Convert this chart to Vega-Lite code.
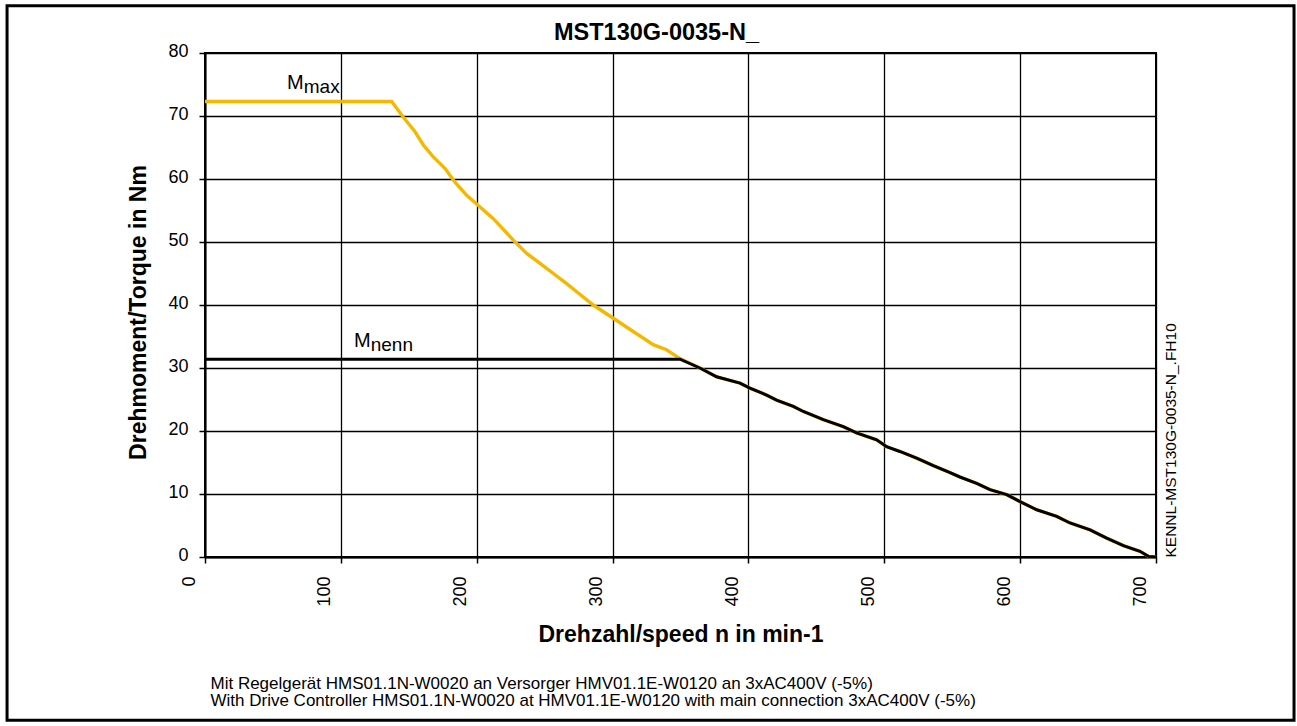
{
  "$schema": "https://vega.github.io/schema/vega-lite/v6.json",
  "width": 951,
  "height": 504,
  "autosize": {"type": "none"},
  "padding": {"left": 205, "top": 53, "right": 141, "bottom": 169},
  "background": "white",
  "config": {
    "font": "Liberation Sans",
    "view": {"stroke": "black", "strokeWidth": 2},
    "axis": {
      "gridColor": "black",
      "gridWidth": 1.3,
      "gridOpacity": 1,
      "domainColor": "black",
      "domainWidth": 2,
      "tickColor": "black",
      "tickWidth": 1.5,
      "tickSize": 6,
      "labelColor": "black",
      "labelFont": "Liberation Sans",
      "labelFontSize": 18,
      "titleFont": "Liberation Sans",
      "titleColor": "black",
      "titleFontSize": 23,
      "titleFontWeight": "bold"
    }
  },
  "datasets": {
    "curves": [
      {"series": "Mmax", "n": 0, "T": 72.3},
      {"series": "Mmax", "n": 137.4, "T": 72.3},
      {"series": "Mmax", "n": 146, "T": 69.8},
      {"series": "Mmax", "n": 154.6, "T": 67.5},
      {"series": "Mmax", "n": 160.7, "T": 65.4},
      {"series": "Mmax", "n": 168, "T": 63.5},
      {"series": "Mmax", "n": 176.6, "T": 61.7},
      {"series": "Mmax", "n": 184, "T": 59.5},
      {"series": "Mmax", "n": 192.6, "T": 57.4},
      {"series": "Mmax", "n": 201.2, "T": 55.8},
      {"series": "Mmax", "n": 212.2, "T": 53.7},
      {"series": "Mmax", "n": 226.9, "T": 50.3},
      {"series": "Mmax", "n": 236.8, "T": 48.2},
      {"series": "Mmax", "n": 246.6, "T": 46.6},
      {"series": "Mmax", "n": 256.4, "T": 45.0},
      {"series": "Mmax", "n": 266.2, "T": 43.4},
      {"series": "Mmax", "n": 273.6, "T": 42.1},
      {"series": "Mmax", "n": 285.8, "T": 40.0},
      {"series": "Mmax", "n": 300.5, "T": 37.9},
      {"series": "Mmax", "n": 315.2, "T": 35.8},
      {"series": "Mmax", "n": 329.9, "T": 33.7},
      {"series": "Mmax", "n": 339.7, "T": 32.9},
      {"series": "Mmax", "n": 349.6, "T": 31.5},
      {"series": "Mmax", "n": 364.3, "T": 30.0},
      {"series": "Mmax", "n": 376.6, "T": 28.6},
      {"series": "Mmax", "n": 393.8, "T": 27.6},
      {"series": "Mmax", "n": 401.1, "T": 26.8},
      {"series": "Mmax", "n": 413.4, "T": 25.7},
      {"series": "Mmax", "n": 420.7, "T": 24.9},
      {"series": "Mmax", "n": 433, "T": 23.9},
      {"series": "Mmax", "n": 440.4, "T": 23.1},
      {"series": "Mmax", "n": 455.1, "T": 21.8},
      {"series": "Mmax", "n": 469.8, "T": 20.7},
      {"series": "Mmax", "n": 479.6, "T": 19.7},
      {"series": "Mmax", "n": 494.4, "T": 18.6},
      {"series": "Mmax", "n": 501.7, "T": 17.5},
      {"series": "Mmax", "n": 511.5, "T": 16.75},
      {"series": "Mmax", "n": 523.8, "T": 15.7},
      {"series": "Mmax", "n": 536.1, "T": 14.5},
      {"series": "Mmax", "n": 548.4, "T": 13.4},
      {"series": "Mmax", "n": 555.7, "T": 12.7},
      {"series": "Mmax", "n": 568, "T": 11.7},
      {"series": "Mmax", "n": 577.8, "T": 10.7},
      {"series": "Mmax", "n": 590.1, "T": 9.9},
      {"series": "Mmax", "n": 599.9, "T": 8.8},
      {"series": "Mmax", "n": 612.2, "T": 7.5},
      {"series": "Mmax", "n": 626.9, "T": 6.45},
      {"series": "Mmax", "n": 636.7, "T": 5.4},
      {"series": "Mmax", "n": 651.5, "T": 4.3},
      {"series": "Mmax", "n": 663.7, "T": 3.0},
      {"series": "Mmax", "n": 676, "T": 1.8},
      {"series": "Mmax", "n": 688.2, "T": 0.9},
      {"series": "Mmax", "n": 694.4, "T": 0.1},
      {"series": "Mmax", "n": 700, "T": 0},
      {"series": "Mnenn", "n": 0, "T": 31.4},
      {"series": "Mnenn", "n": 349.6, "T": 31.4},
      {"series": "Mnenn", "n": 364.3, "T": 30.0},
      {"series": "Mnenn", "n": 376.6, "T": 28.6},
      {"series": "Mnenn", "n": 393.8, "T": 27.6},
      {"series": "Mnenn", "n": 401.1, "T": 26.8},
      {"series": "Mnenn", "n": 413.4, "T": 25.7},
      {"series": "Mnenn", "n": 420.7, "T": 24.9},
      {"series": "Mnenn", "n": 433, "T": 23.9},
      {"series": "Mnenn", "n": 440.4, "T": 23.1},
      {"series": "Mnenn", "n": 455.1, "T": 21.8},
      {"series": "Mnenn", "n": 469.8, "T": 20.7},
      {"series": "Mnenn", "n": 479.6, "T": 19.7},
      {"series": "Mnenn", "n": 494.4, "T": 18.6},
      {"series": "Mnenn", "n": 501.7, "T": 17.5},
      {"series": "Mnenn", "n": 511.5, "T": 16.75},
      {"series": "Mnenn", "n": 523.8, "T": 15.7},
      {"series": "Mnenn", "n": 536.1, "T": 14.5},
      {"series": "Mnenn", "n": 548.4, "T": 13.4},
      {"series": "Mnenn", "n": 555.7, "T": 12.7},
      {"series": "Mnenn", "n": 568, "T": 11.7},
      {"series": "Mnenn", "n": 577.8, "T": 10.7},
      {"series": "Mnenn", "n": 590.1, "T": 9.9},
      {"series": "Mnenn", "n": 599.9, "T": 8.8},
      {"series": "Mnenn", "n": 612.2, "T": 7.5},
      {"series": "Mnenn", "n": 626.9, "T": 6.45},
      {"series": "Mnenn", "n": 636.7, "T": 5.4},
      {"series": "Mnenn", "n": 651.5, "T": 4.3},
      {"series": "Mnenn", "n": 663.7, "T": 3.0},
      {"series": "Mnenn", "n": 676, "T": 1.8},
      {"series": "Mnenn", "n": 688.2, "T": 0.9},
      {"series": "Mnenn", "n": 694.4, "T": 0.1},
      {"series": "Mnenn", "n": 700, "T": 0}
    ],
    "labels": [
      {"n": 60.4, "T": 74.34, "main": "M", "sub": "max"},
      {"n": 109.7, "T": 33.39, "main": "M", "sub": "nenn"}
    ]
  },
  "layer": [
    {
      "data": {"values": [{}]},
      "mark": {"type": "rect", "fill": "transparent", "stroke": "black", "strokeWidth": 3, "clip": false},
      "encoding": {
        "x": {"datum": -145.7, "type": "quantitative", "scale": {"domain": [0, 700], "nice": false, "zero": false}, "axis": null},
        "x2": {"datum": 801.6},
        "y": {"datum": 87.5, "type": "quantitative", "scale": {"domain": [0, 80], "nice": false, "zero": false}, "axis": null},
        "y2": {"datum": -25.9}
      }
    },
    {
      "data": {"name": "curves"},
      "transform": [{"filter": "datum.series === 'Mmax'"}],
      "mark": {"type": "line", "color": "#F4B800", "strokeWidth": 3.4},
      "encoding": {
        "x": {
          "field": "n", "type": "quantitative",
          "scale": {"domain": [0, 700], "nice": false, "zero": false},
          "axis": {
            "title": "Drehzahl/speed n in min-1",
            "values": [0, 100, 200, 300, 400, 500, 600, 700],
            "labelAngle": -90,
            "labelAlign": "right",
            "labelBaseline": "middle",
            "labelOffset": -16,
            "labelPadding": 13,
            "titlePadding": 17,
            "grid": true
          }
        },
        "y": {
          "field": "T", "type": "quantitative",
          "scale": {"domain": [0, 80], "nice": false, "zero": false},
          "axis": {
            "title": "Drehmoment/Torque in Nm",
            "values": [0, 10, 20, 30, 40, 50, 60, 70, 80],
            "labelPadding": 11,
            "labelOffset": -2,
            "titlePadding": 17,
            "titleY": 259,
            "grid": true
          }
        }
      }
    },
    {
      "data": {"name": "curves"},
      "transform": [{"filter": "datum.series === 'Mnenn'"}],
      "mark": {"type": "line", "color": "black", "strokeWidth": 3},
      "encoding": {
        "x": {"field": "n", "type": "quantitative", "axis": null},
        "y": {"field": "T", "type": "quantitative", "axis": null}
      }
    },
    {
      "data": {"name": "labels"},
      "mark": {"type": "text", "align": "left", "baseline": "alphabetic", "fontSize": 20, "font": "Liberation Sans", "color": "black"},
      "encoding": {
        "x": {
          "field": "n", "type": "quantitative",
          "axis": {
            "orient": "bottom",
            "domain": false, "ticks": false, "labels": false, "grid": false,
            "title": ["Mit Regelgerät HMS01.1N-W0020 an Versorger HMV01.1E-W0120 an 3xAC400V (-5%)", "With Drive Controller HMS01.1N-W0020 at HMV01.1E-W0120 with main connection 3xAC400V (-5%)"],
            "titleAnchor": "start",
            "titleAlign": "left",
            "titleBaseline": "top",
            "titleFontWeight": "normal",
            "titleFontSize": 17,
            "titleLineHeight": 17.5,
            "titleX": 5,
            "titlePadding": 118
          }
        },
        "y": {
          "field": "T", "type": "quantitative",
          "axis": {
            "orient": "right",
            "domain": false, "ticks": false, "labels": false, "grid": false,
            "title": "KENNL-MST130G-0035-N_.FH10",
            "titleAngle": 270,
            "titleAnchor": "start",
            "titleAlign": "left",
            "titleBaseline": "top",
            "titleFontWeight": "normal",
            "titleFontSize": 15.5,
            "titlePadding": 7
          }
        },
        "text": {"field": "main"}
      }
    },
    {
      "data": {"name": "labels"},
      "mark": {"type": "text", "align": "left", "baseline": "alphabetic", "fontSize": 19, "font": "Liberation Sans", "color": "black", "dx": 16.7, "dy": 4.7},
      "encoding": {
        "x": {
          "field": "n", "type": "quantitative",
          "axis": {
            "orient": "top",
            "domain": false, "ticks": false, "labels": false, "grid": false,
            "title": "MST130G-0035-N_",
            "titleFontSize": 23.5,
            "titleBaseline": "alphabetic",
            "titleAlign": "center",
            "titleX": 451,
            "titlePadding": 14
          }
        },
        "y": {"field": "T", "type": "quantitative", "axis": null},
        "text": {"field": "sub"}
      }
    }
  ],
  "resolve": {"axis": {"x": "independent", "y": "independent"}}
}
